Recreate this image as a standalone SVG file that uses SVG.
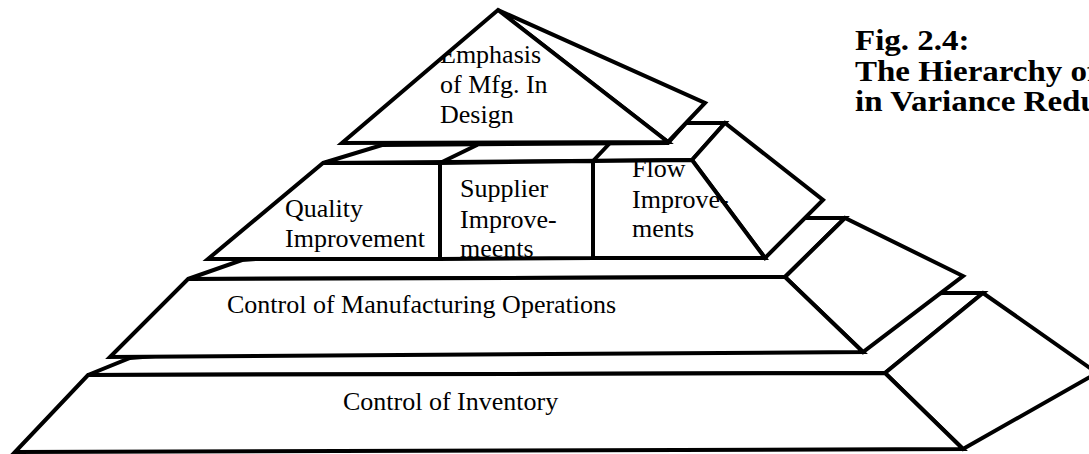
<svg xmlns="http://www.w3.org/2000/svg" width="1089" height="454" viewBox="0 0 1089 454">
  <defs>
    <style>
      .face { fill: #ffffff; stroke: #000000; stroke-width: 4; stroke-linejoin: miter; stroke-miterlimit: 4; }
      .edge { fill: none; stroke: #000000; stroke-width: 4; stroke-linecap: round; }
      .lbl { font-family: "Liberation Serif", "Times New Roman", serif; font-size: 26px; fill: #000000; }
      .cap { font-family: "Liberation Serif", "Times New Roman", serif; font-size: 30px; font-weight: bold; fill: #000000; }
    </style>
    <clipPath id="clip-top"><polygon points="498,10 668,142 342,143"/></clipPath>
    <clipPath id="clip-quality"><polygon points="323,163 440,163 440,259 208,259"/></clipPath>
    <clipPath id="clip-supplier"><polygon points="440,163 593,161 593,258 440,259"/></clipPath>
    <clipPath id="clip-flow"><polygon points="593,161 700,160 790,258 593,258"/></clipPath>
  </defs>

  <rect width="1089" height="454" fill="#ffffff"/>

  <!-- bottom tier -->
  <g id="tier-inventory">
    <polygon class="face" points="88,375 130,358 943,293 983,293 885,373"/>
    <polygon class="face" points="885,373 983,293 1097,373 963,449"/>
    <polygon class="face" points="88,375 885,373 963,449 15,452"/>
    <text class="lbl" x="343" y="410">Control of Inventory</text>
  </g>

  <!-- manufacturing tier -->
  <g id="tier-manufacturing">
    <polygon class="face" points="188,279 242,260 805,218 845,218 785,277"/>
    <polygon class="face" points="785,277 845,218 963,276 863,352"/>
    <polygon class="face" points="188,279 785,277 863,352 110,357"/>
    <text class="lbl" x="227" y="313">Control of Manufacturing Operations</text>
  </g>

  <!-- improvement tier: top surface, side and three front boxes -->
  <g id="tier-improvements">
    <polygon class="face" points="323,163 382,145 668,143 686,123 725,123 692,160"/>
    <polygon class="face" points="692,160 725,123 823,200 765,258"/>
    <g id="ledge-edges">
      <line class="edge" x1="440" y1="163" x2="477" y2="145"/>
      <line class="edge" x1="593" y1="161" x2="610" y2="143"/>
    </g>
  </g>

  <g id="quality">
    <polygon class="face" points="323,163 440,163 440,259 208,259"/>
    <g clip-path="url(#clip-quality)">
      <text class="lbl" x="285" y="217">Quality</text>
      <text class="lbl" x="285" y="247">Improvement</text>
    </g>
  </g>

  <g id="supplier">
    <polygon class="face" points="440,163 593,161 593,258 440,259"/>
    <g clip-path="url(#clip-supplier)">
      <text class="lbl" x="460" y="197">Supplier</text>
      <text class="lbl" x="460" y="228">Improve-</text>
      <text class="lbl" x="460" y="257">meents</text>
    </g>
  </g>

  <g id="flow">
    <polygon class="face" points="593,161 692,160 765,258 593,258"/>
    <g clip-path="url(#clip-flow)">
      <text class="lbl" x="632" y="177">Flow</text>
      <text class="lbl" x="632" y="208">Improve-</text>
      <text class="lbl" x="632" y="237">ments</text>
    </g>
  </g>

  <!-- apex -->
  <g id="emphasis">
    <polygon class="face" points="498,10 705,103 668,142"/>
    <polygon class="face" points="498,10 668,142 342,143"/>
    <g clip-path="url(#clip-top)">
      <text class="lbl" x="440" y="63">Emphasis</text>
      <text class="lbl" x="440" y="93">of Mfg. In</text>
      <text class="lbl" x="440" y="123">Design</text>
    </g>
  </g>

  <!-- figure caption, set in a slightly wide bold serif -->
  <g id="caption" transform="translate(855,0) scale(1.1,1)">
    <text class="cap" x="0" y="50">Fig. 2.4:</text>
    <text class="cap" x="0" y="81">The Hierarchy of</text>
    <text class="cap" x="0" y="111">in Variance Reduction</text>
  </g>
</svg>
